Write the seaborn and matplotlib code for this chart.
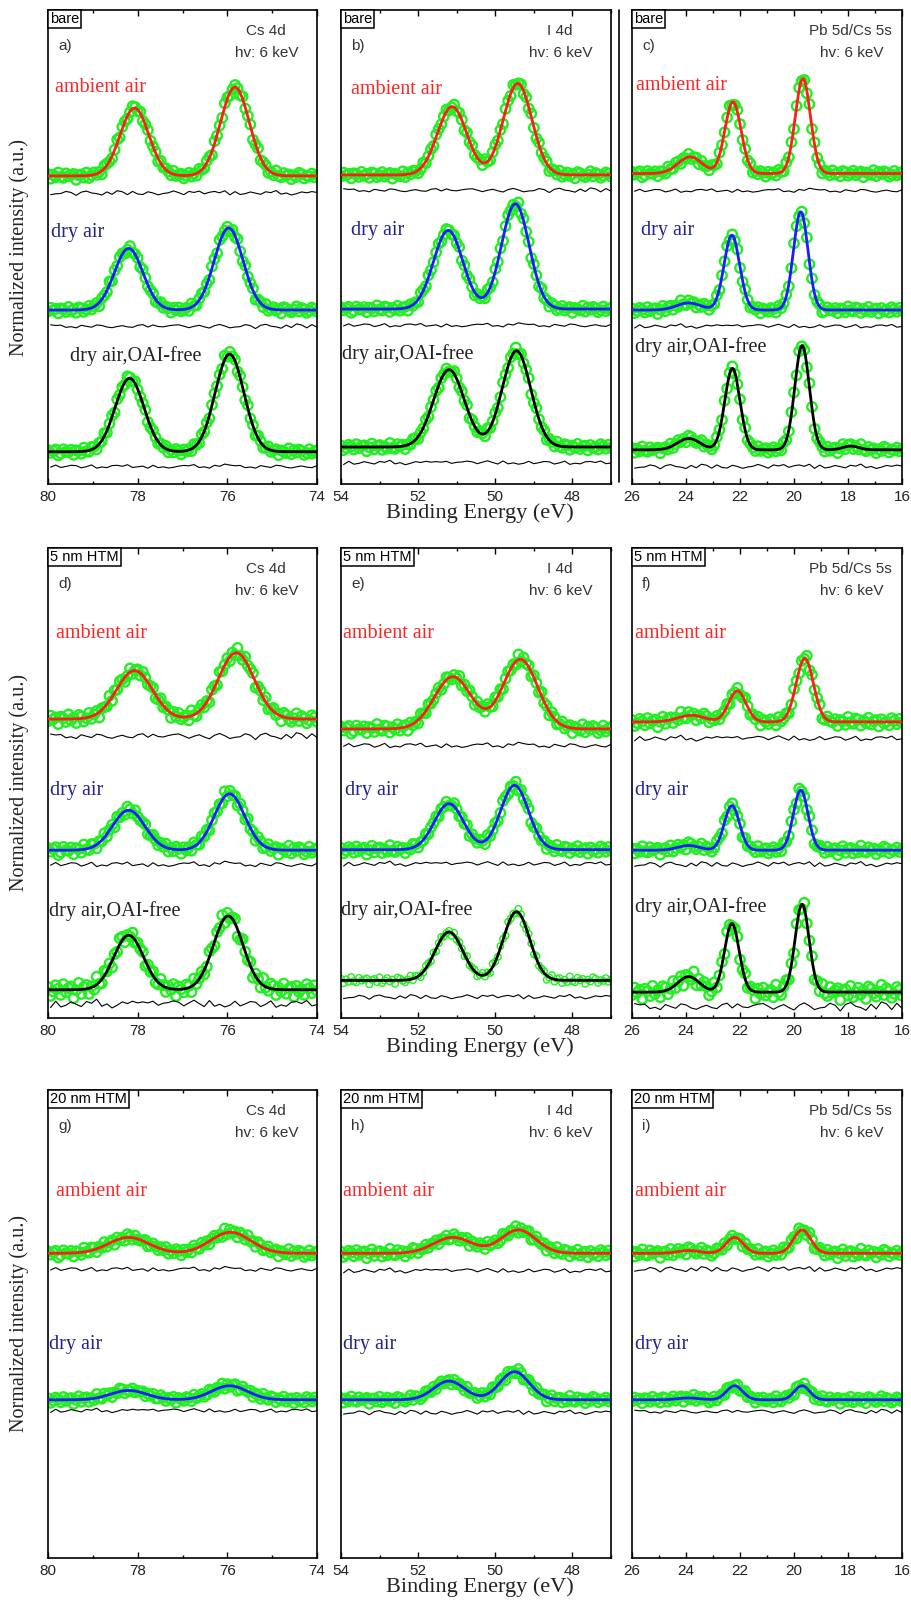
import numpy as np
import matplotlib
matplotlib.use("Agg")
import matplotlib.pyplot as plt
import seaborn as sns
from matplotlib.lines import Line2D
from matplotlib.ticker import FixedLocator, MultipleLocator
from matplotlib import font_manager

# ---------------------------------------------------------------- data
core_levels = ["Cs 4d", "I 4d", "Pb 5d/Cs 5s"]
energy_windows = [(80, 74), (54, 47), (26, 16)]
major_ticks = [[80, 78, 76, 74], [54, 52, 50, 48], [26, 24, 22, 20, 18, 16]]
stacks = ["bare", "5 nm HTM", "20 nm HTM"]
panel_tags = [["a)", "b)", "c)"], ["d)", "e)", "f)"], ["g)", "h)", "i)"]]
atmospheres = ["ambient air", "dry air", "dry air,OAI-free"]
photon_energy = "hv: 6 keV"

# fitted spectra, normalised and offset:
# (baseline, residual offset, [(centre eV, height, sigma eV), ...])
fits_bare_cs = [
    (0.650, 0.614, [(78.07, 0.143, 0.32), (75.83, 0.187, 0.32)]),
    (0.367, 0.333, [(78.20, 0.130, 0.32), (75.97, 0.173, 0.32)]),
    (0.068, 0.037, [(78.18, 0.155, 0.32), (75.95, 0.206, 0.32)]),
]
fits_bare_i = [
    (0.652, 0.620, [(51.12, 0.144, 0.38), (49.42, 0.193, 0.37)]),
    (0.369, 0.335, [(51.22, 0.166, 0.38), (49.48, 0.222, 0.36)]),
    (0.078, 0.045, [(51.20, 0.163, 0.40), (49.45, 0.203, 0.37)]),
]
fits_bare_pb = [
    (0.655, 0.619, [(23.85, 0.035, 0.45), (22.26, 0.151, 0.30), (19.67, 0.200, 0.28)]),
    (0.367, 0.333, [(23.90, 0.015, 0.45), (22.30, 0.158, 0.29), (19.75, 0.207, 0.27)]),
    (0.072, 0.037, [(23.90, 0.024, 0.42), (22.28, 0.172, 0.28), (19.70, 0.220, 0.27),
                    (17.90, 0.008, 0.30)]),
]
fits_5nm_cs = [
    (0.636, 0.600, [(78.07, 0.103, 0.40), (75.80, 0.141, 0.40)]),
    (0.357, 0.327, [(78.20, 0.085, 0.36), (75.95, 0.120, 0.34)]),
    (0.060, 0.030, [(78.20, 0.116, 0.33), (75.98, 0.157, 0.33)]),
]
fits_5nm_i = [
    (0.615, 0.580, [(51.10, 0.111, 0.48), (49.35, 0.148, 0.45)]),
    (0.358, 0.328, [(51.20, 0.098, 0.38), (49.50, 0.137, 0.36)]),
    (0.080, 0.045, [(51.20, 0.103, 0.36), (49.45, 0.146, 0.34)]),
]
fits_5nm_pb = [
    (0.630, 0.595, [(23.80, 0.014, 0.50), (22.10, 0.066, 0.32), (19.60, 0.135, 0.32)]),
    (0.357, 0.327, [(23.90, 0.010, 0.40), (22.30, 0.095, 0.28), (19.75, 0.128, 0.27)]),
    (0.055, 0.025, [(23.90, 0.033, 0.40), (22.30, 0.146, 0.27), (19.70, 0.187, 0.26)]),
]
fits_20nm_cs = [
    (0.651, 0.617, [(78.20, 0.034, 0.45), (75.93, 0.045, 0.45)]),
    (0.338, 0.315, [(78.20, 0.020, 0.40), (75.95, 0.030, 0.40)]),
]
fits_20nm_i = [
    (0.651, 0.614, [(51.10, 0.034, 0.50), (49.40, 0.050, 0.45)]),
    (0.338, 0.311, [(51.20, 0.040, 0.40), (49.50, 0.060, 0.38)]),
]
fits_20nm_pb = [
    (0.651, 0.617, [(23.90, 0.006, 0.40), (22.20, 0.034, 0.32), (19.70, 0.050, 0.32)]),
    (0.338, 0.313, [(23.90, 0.004, 0.40), (22.20, 0.030, 0.30), (19.70, 0.030, 0.28)]),
]

# measured-minus-fit deviations (noise units) of the recorded points
dev_1 = [0.3, -0.5, 0.8, -0.2, 0.1, -0.9, 0.6, 1.1, -0.4, 0.2, -1.2, 0.5, 0.0, 0.9, -0.7,
         -0.3, 1.4, -0.6, 0.2, -1.0, 0.7, 0.4, -0.8, 1.2, -0.1, -1.5, 0.6, 0.3, -0.4, 1.0,
         -0.9, 0.2, 0.8, -0.3, -1.1, 0.5, 1.3, -0.6, 0.1, -0.2, 0.9, -1.3, 0.4, 0.7, -0.5,
         0.0, 1.1, -0.8, 0.3, -0.6, 0.9, -0.1, -1.0, 0.6, 0.2, -0.4, 1.2, -0.7, 0.1, 0.5,
         -0.3, 0.8, -1.1, 0.4, 0.0, -0.5, 0.7, 0.2, -0.9, 0.6]
dev_2 = [-0.6, 0.4, 0.9, -0.3, -1.0, 0.2, 0.7, -0.5, 1.3, 0.1, -0.8, -0.2, 0.6, 1.0, -1.2,
         0.3, -0.4, 0.8, 0.0, -0.9, 1.1, -0.6, 0.5, 0.2, -1.4, 0.7, 0.3, -0.1, 0.9, -0.7,
         -0.3, 1.2, -0.5, 0.4, -1.0, 0.6, 0.1, -0.2, 1.0, -0.8, 0.3, 0.7, -1.1, 0.2, -0.4,
         0.9, 0.5, -0.7, -0.1, 1.3, -0.9, 0.4, 0.0, -0.6, 0.8, -0.3, 0.6, -1.2, 0.2, 0.5,
         -0.4, 1.0, -0.2, -0.8, 0.7, 0.1, -0.5, 0.3, 0.9, -0.6]
dev_3 = [0.5, 0.1, -0.7, 0.9, -0.4, -1.1, 0.3, 0.8, -0.2, 0.6, -0.9, 1.2, -0.5, 0.0, 0.4,
         -1.3, 0.7, 0.2, -0.6, 1.0, -0.1, -0.8, 0.5, 0.9, -1.0, 0.3, -0.3, 1.1, -0.7, 0.2,
         0.6, -1.2, 0.4, -0.1, 0.8, -0.5, 1.4, -0.9, 0.1, -0.4, 0.7, 0.3, -1.0, 0.5, -0.2,
         0.9, -0.6, 0.0, 1.1, -0.8, 0.4, -0.3, 0.6, -1.1, 0.2, 0.8, -0.5, 0.3, -0.9, 1.0,
         -0.2, 0.5, -0.7, 0.1, 0.7, -0.4, -1.0, 0.6, 0.2, -0.3]
dev_4 = [-0.2, 0.8, -0.6, 0.3, 1.0, -0.9, 0.1, -0.4, 0.7, -1.2, 0.5, 0.2, -0.7, 1.1, -0.3,
         0.4, -1.0, 0.6, 0.9, -0.5, -0.1, 1.3, -0.8, 0.2, 0.5, -1.1, 0.7, -0.2, 0.0, 0.9,
         -0.6, -1.3, 0.8, 0.3, -0.4, 0.6, -0.9, 1.2, -0.1, 0.4, -0.7, 0.2, 1.0, -0.5, -0.8,
         0.6, 0.1, -0.3, 1.1, -1.0, 0.3, 0.7, -0.6, 0.0, 0.5, -1.2, 0.9, -0.2, 0.4, -0.8,
         0.2, 1.0, -0.4, -0.6, 0.8, -0.1, 0.3, -0.9, 0.6, 0.1]
deviation_sets = [dev_1, dev_2, dev_3, dev_4]

# size of one noise unit (panel fraction) for every spectrum
noise_unit = [
    [[0.006, 0.006, 0.006], [0.006, 0.006, 0.006], [0.006, 0.006, 0.006]],
    [[0.009, 0.008, 0.012], [0.008, 0.007, 0.006], [0.008, 0.007, 0.012]],
    [[0.007, 0.006], [0.007, 0.006], [0.007, 0.006]],
]

panel_fits = [
    [fits_bare_cs, fits_bare_i, fits_bare_pb],
    [fits_5nm_cs, fits_5nm_i, fits_5nm_pb],
    [fits_20nm_cs, fits_20nm_i, fits_20nm_pb],
]

# ---------------------------------------------------------------- style
sns.set_theme(style="white")
SANS = ["Liberation Sans", "DejaVu Sans"]
SERIF = ["Liberation Serif", "DejaVu Serif"]
try:
    font_manager.findfont("Liberation Sans Narrow", fallback_to_default=False)
    NARROW = ["Liberation Sans Narrow", "Liberation Sans", "DejaVu Sans"]
except Exception:
    NARROW = SANS
plt.rcParams["font.family"] = SANS

GREEN = "#22ee22"
FIT_COLORS = ["#ff1c1c", "#1c1cff", "#000000"]
LABEL_COLORS = ["#ff2424", "#22228c", "#222222"]
TEXT_GRAY = "#333333"

W, H = 912, 1614
fig = plt.figure(figsize=(W / 100, H / 100), dpi=100)
fig.patch.set_facecolor("white")

col_left = [48, 341, 632]
col_width = [269, 270, 270]
row_top = [10, 548, 1090]
row_height = [474, 470, 468]

# spectrum label anchors (px right of / below panel corner)
label_dx = [
    [[7, 3, 22], [10, 10, 1], [4, 9, 3]],
    [[8, 2, 1], [2, 4, 0], [3, 3, 3]],
    [[8, 1], [2, 2], [3, 3]],
]
label_dy = [
    [[78, 223, 346], [79, 220, 344], [75, 220, 337]],
    [[85, 242, 363], [85, 242, 362], [85, 242, 359]],
    [[102, 255], [102, 255], [102, 255]],
]


def fitted(x, base, peaks):
    y = np.full_like(x, base, dtype=float)
    for centre, height, sigma in peaks:
        y = y + height * np.exp(-0.5 * ((x - centre) / sigma) ** 2)
    return y


for r in range(3):
    for c in range(3):
        left, width = col_left[c], col_width[c]
        top, height = row_top[r], row_height[r]
        ax = fig.add_axes([left / W, 1 - (top + height) / H, width / W, height / H])
        e_hi, e_lo = energy_windows[c]
        xf = np.linspace(e_lo, e_hi, 800)

        for k, (base, resid, peaks) in enumerate(panel_fits[r][c]):
            i = (r + c + k) % 4
            dev = np.asarray(deviation_sets[i] + deviation_sets[(i + 1) % 4][:36])
            unit = noise_unit[r][c][k]
            xp = np.linspace(e_lo, e_hi, len(dev))
            yp = fitted(xp, base, peaks) + unit * dev
            small = (r == 1 and c == 1 and k == 2)
            sns.scatterplot(x=xp, y=yp, ax=ax, marker="o",
                            s=22 if small else 46, facecolor="none",
                            edgecolor=GREEN, linewidth=1.0 if small else 1.7,
                            legend=False, zorder=2)
            sns.lineplot(x=xf, y=fitted(xf, base, peaks), ax=ax,
                         color=FIT_COLORS[k], linewidth=2.0, estimator=None,
                         sort=False, legend=False, zorder=3)
            # difference trace, drawn every other point
            sns.lineplot(x=xp[::2], y=resid + 0.6 * unit * dev[::2], ax=ax,
                         color="black", linewidth=0.8, estimator=None, sort=False,
                         legend=False, zorder=3)
            ax.text(label_dx[r][c][k] / width, 1 - label_dy[r][c][k] / height,
                    atmospheres[k], transform=ax.transAxes, ha="left", va="center",
                    fontsize=14.5, color=LABEL_COLORS[k], family=SERIF, zorder=5)

        ax.set_xlim(e_hi, e_lo)
        ax.set_ylim(0, 1)
        ax.set_yticks([])
        ax.set_xlabel("")
        ax.set_ylabel("")
        ax.xaxis.set_major_locator(FixedLocator(major_ticks[c]))
        ax.xaxis.set_minor_locator(MultipleLocator(1))
        ax.tick_params(axis="x", which="both", direction="in", top=True,
                       bottom=True, colors="black", labelcolor="#222222")
        ax.tick_params(axis="x", which="major", length=4, width=1, pad=4,
                       labelsize=11)
        ax.tick_params(axis="x", which="minor", length=2.5, width=1)
        for lab in ax.get_xticklabels():
            lab.set_family(NARROW)
        for sp in ax.spines.values():
            sp.set_visible(True)
            sp.set_color("black")
            sp.set_linewidth(1.2)

        # sample stack tag in a box at the corner
        ax.text(2 / width, 1 - 2 / height, stacks[r], transform=ax.transAxes,
                ha="left", va="top", fontsize=10.5, color="black",
                bbox=dict(boxstyle="square,pad=0.15", fc="white", ec="black", lw=1.1),
                zorder=6)
        ax.text(10 / width, 1 - 36 / height, panel_tags[r][c], transform=ax.transAxes,
                ha="left", va="center", fontsize=11, color=TEXT_GRAY)
        ax.text(0.81, 1 - 21 / height, core_levels[c], transform=ax.transAxes,
                ha="center", va="center", fontsize=11, color=TEXT_GRAY)
        ax.text(0.815, 1 - 43 / height, photon_energy, transform=ax.transAxes,
                ha="center", va="center", fontsize=11, color=TEXT_GRAY)

    # row axis titles
    mid = row_top[r] + row_height[r] / 2
    fig.text(19 / W, 1 - mid / H, "Normalized intensity (a.u.)", rotation=90,
             ha="center", va="center", fontsize=14.5, family=SERIF, color="#222222")
    bottom = row_top[r] + row_height[r]
    fig.text(480 / W, 1 - (bottom + 29) / H, "Binding Energy (eV)", ha="center",
             va="center", fontsize=16, family=SERIF, color="#222222")

# separator rule beside the top-right panel
fig.add_artist(Line2D([619 / W, 619 / W], [1 - 10 / H, 1 - 482 / H], color="black",
                      lw=1.2, transform=fig.transFigure))

fig.savefig("out.png", dpi=100, facecolor="white")
